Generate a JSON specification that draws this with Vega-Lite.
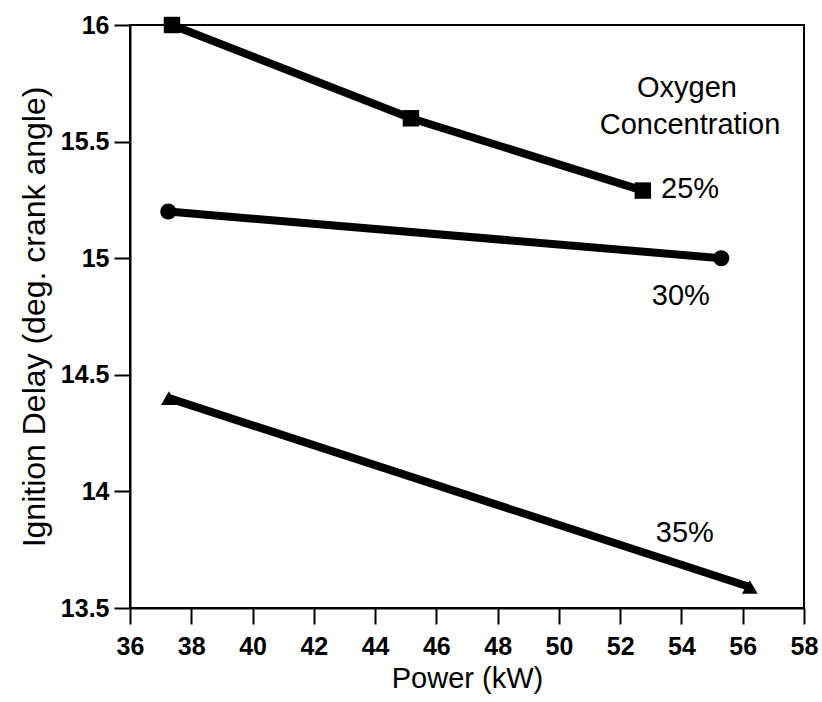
{
  "$schema": "https://vega.github.io/schema/vega-lite/v6.json",
  "width": 674,
  "height": 583,
  "autosize": "none",
  "padding": {"left": 130, "top": 25, "right": 18, "bottom": 94},
  "background": "white",
  "config": {
    "view": {"stroke": "black", "strokeWidth": 2},
    "font": "Liberation Sans"
  },
  "datasets": {
    "pts": [
      {"power": 37.37, "delay": 16.0, "oxygen": "25%"},
      {"power": 45.17, "delay": 15.6, "oxygen": "25%"},
      {"power": 52.74, "delay": 15.29, "oxygen": "25%"},
      {"power": 37.25, "delay": 15.2, "oxygen": "30%"},
      {"power": 55.3, "delay": 15.0, "oxygen": "30%"},
      {"power": 37.27, "delay": 14.4, "oxygen": "35%"},
      {"power": 56.23, "delay": 13.59, "oxygen": "35%"}
    ],
    "labels": [
      {"power": 54.18, "delay": 15.692, "text": "Oxygen"},
      {"power": 54.28, "delay": 15.533, "text": "Concentration"},
      {"power": 54.28, "delay": 15.259, "text": "25%"},
      {"power": 53.98, "delay": 14.8, "text": "30%"},
      {"power": 54.11, "delay": 13.785, "text": "35%"}
    ]
  },
  "layer": [
    {
      "data": {"name": "pts"},
      "mark": {"type": "line", "color": "black", "strokeWidth": 8, "clip": false},
      "encoding": {
        "x": {
          "field": "power", "type": "quantitative",
          "scale": {"domain": [36, 58], "nice": false, "zero": false},
          "axis": {
            "title": "Power (kW)", "values": [36,38,40,42,44,46,48,50,52,54,56,58],
            "format": "~g",
            "grid": false, "domainColor": "black", "domainWidth": 2,
            "tickColor": "black", "tickWidth": 2, "tickSize": 16,
            "labelFont": "Liberation Sans", "labelFontSize": 25, "labelFontWeight": "bold", "labelColor": "black",
            "labelPadding": 10, "labelFlush": false,
            "titleFont": "Liberation Sans", "titleFontSize": 29, "titleFontWeight": "normal", "titleColor": "black",
            "titlePadding": 5
          }
        },
        "y": {
          "field": "delay", "type": "quantitative",
          "scale": {"domain": [13.5, 16], "nice": false, "zero": false},
          "axis": {
            "title": "Ignition Delay (deg. crank angle)", "values": [13.5,14,14.5,15,15.5,16],
            "format": "~g",
            "grid": false, "domainColor": "black", "domainWidth": 2,
            "tickColor": "black", "tickWidth": 2, "tickSize": 16,
            "labelFont": "Liberation Sans", "labelFontSize": 25, "labelFontWeight": "bold", "labelColor": "black",
            "labelPadding": 5, "labelFlush": false,
            "titleFont": "Liberation Sans", "titleFontSize": 32, "titleFontWeight": "normal", "titleColor": "black",
            "titlePadding": 9
          }
        },
        "detail": {"field": "oxygen"}
      }
    },
    {
      "data": {"name": "pts"},
      "mark": {"type": "point", "filled": true, "color": "black", "opacity": 1, "clip": false},
      "encoding": {
        "x": {"field": "power", "type": "quantitative"},
        "y": {"field": "delay", "type": "quantitative"},
        "shape": {
          "field": "oxygen", "type": "nominal",
          "scale": {"domain": ["25%", "30%", "35%"], "range": ["square", "circle", "triangle-up"]},
          "legend": null
        },
        "size": {
          "field": "oxygen", "type": "nominal",
          "scale": {"domain": ["25%", "30%", "35%"], "range": [270, 250, 420]},
          "legend": null
        }
      }
    },
    {
      "data": {"name": "labels"},
      "mark": {"type": "text", "font": "Liberation Sans", "fontSize": 29, "color": "black", "align": "center", "baseline": "alphabetic"},
      "encoding": {
        "x": {"field": "power", "type": "quantitative"},
        "y": {"field": "delay", "type": "quantitative"},
        "text": {"field": "text"}
      }
    }
  ]
}
